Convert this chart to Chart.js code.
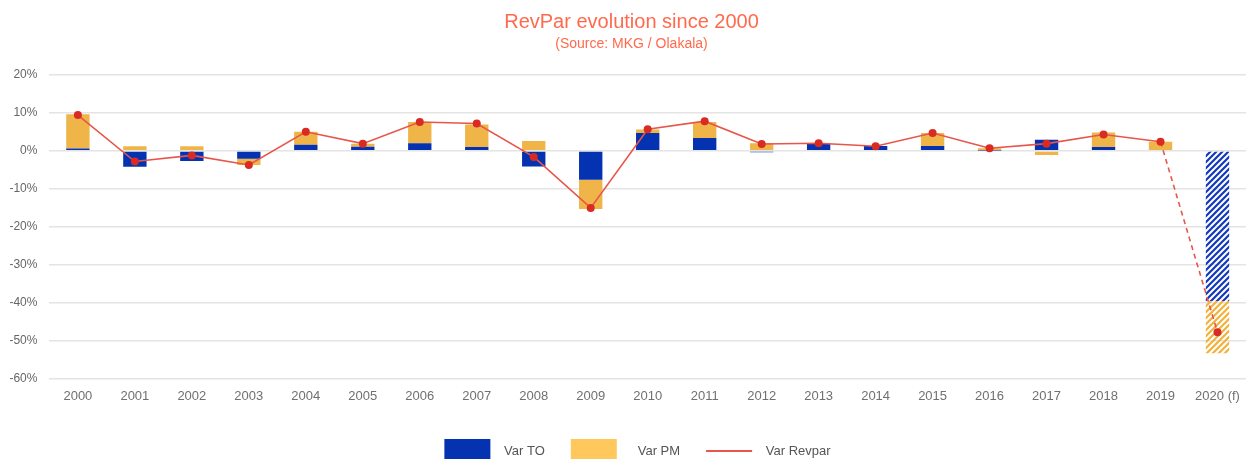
<!DOCTYPE html>
<html>
<head>
<meta charset="utf-8">
<script src="https://cdn.jsdelivr.net/npm/chart.js@4/dist/chart.umd.min.js"></script>
<style>
  html, body { margin: 0; padding: 0; background: #fff; overflow: hidden; }
  #wrap { width: 1250px; height: 473px; }
</style>
</head>
<body>
<div id="wrap"><canvas id="c" width="1250" height="473"></canvas></div>
<script>
const years = ['2000','2001','2002','2003','2004','2005','2006','2007','2008','2009','2010',
               '2011','2012','2013','2014','2015','2016','2017','2018','2019','2020 (f)'];
const varTO = [0.6, -4.2, -2.7, -2.1, 1.6, 1.1, 2.0, 1.0, -4.1, -7.6, 4.7,
               3.4, -0.4, 1.8, 1.3, 1.3, 0.1, 2.9, 1.0, 0.2, -39.5];
const varPM = [9.0, 1.2, 1.2, -1.6, 3.4, 0.8, 5.6, 5.9, 2.6, -7.7, 0.9,
               4.2, 2.0, 0.2, 0.0, 3.4, 0.6, -1.1, 3.8, 2.2, -13.7];
const varRevpar = [9.4, -2.8, -1.2, -3.7, 5.0, 1.9, 7.6, 7.2, -1.6, -15.0, 5.7,
                   7.8, 1.8, 2.0, 1.2, 4.7, 0.7, 1.9, 4.3, 2.4, -47.7];
const legendLabels = ['  Var TO', '    Var PM', '  Var Revpar'];
const forecastIndex = years.length - 1;

const BLUE = '#0532B0';
const YELLOW = '#EFB549';
const LEGEND_YELLOW = '#FFC85C';
const LINE_RED = '#E8554A';
const POINT_RED = '#D92B22';

function hatch(color) {
  const s = 6;
  const c = document.createElement('canvas');
  c.width = s; c.height = s;
  const g = c.getContext('2d');
  g.strokeStyle = color;
  g.lineWidth = 2.2;
  g.beginPath();
  g.moveTo(-1, s + 1); g.lineTo(s + 1, -1);
  g.moveTo(-1, 1); g.lineTo(1, -1);
  g.moveTo(s - 1, s + 1); g.lineTo(s + 1, s - 1);
  g.stroke();
  return g.createPattern(c, 'repeat');
}
const blueHatch = hatch('#1238C0');
const yellowHatch = hatch('#F2B23A');

const legendLinePlugin = {
  id: 'legendLine',
  afterLayout(chart) {
    // let the y tick labels use the left margin instead of being clipped
    const y = chart.scales.y;
    y.left = 0;
    y.width = y.right;
    // nudge the legend slightly right, as in the reference
    if (chart.legend) {
      chart.legend.left += 6;
      chart.legend.right += 6;
    }
  },
  afterDraw(chart) {
    const lg = chart.legend;
    if (!lg || !lg.legendItems) return;
    lg.legendItems.forEach((item, i) => {
      if (item.datasetIndex !== 2) return;
      const hb = lg.legendHitBoxes[i];
      const ctx = chart.ctx;
      ctx.save();
      ctx.strokeStyle = LINE_RED;
      ctx.lineWidth = 2;
      ctx.beginPath();
      const y = hb.top + hb.height / 2;
      ctx.moveTo(hb.left, y);
      ctx.lineTo(hb.left + 46, y);
      ctx.stroke();
      ctx.restore();
    });
  }
};

new Chart(document.getElementById('c'), {
  type: 'bar',
  data: {
    labels: years,
    datasets: [
      {
        label: 'Var TO',
        data: varTO,
        order: 1,
        backgroundColor: (ctx) => ctx.dataIndex === forecastIndex ? blueHatch : BLUE,
        legendColor: BLUE,
        barPercentage: 0.41,
        categoryPercentage: 1,
        borderWidth: 0
      },
      {
        label: 'Var PM',
        data: varPM,
        order: 2,
        backgroundColor: (ctx) => ctx.dataIndex === forecastIndex ? yellowHatch : YELLOW,
        legendColor: LEGEND_YELLOW,
        barPercentage: 0.41,
        categoryPercentage: 1,
        borderWidth: 0
      },
      {
        type: 'line',
        label: 'Var Revpar',
        data: varRevpar,
        order: 0,
        borderColor: LINE_RED,
        borderWidth: 1.6,
        pointRadius: 4,
        pointBackgroundColor: POINT_RED,
        pointBorderColor: POINT_RED,
        pointBorderWidth: 0,
        tension: 0,
        fill: false,
        segment: {
          borderDash: (ctx) => ctx.p1DataIndex === forecastIndex ? [5, 4] : undefined
        }
      }
    ]
  },
  options: {
    responsive: false,
    animation: false,
    devicePixelRatio: 1,
    layout: { padding: { left: 13, right: 0, top: 0, bottom: 0 } },
    scales: {
      x: {
        stacked: true,
        offset: true,
        grid: { display: false, drawTicks: false },
        border: { display: false },
        ticks: {
          color: '#707070',
          font: { family: 'Liberation Sans, Arial, sans-serif', size: 13 },
          padding: 10,
          maxRotation: 0,
          autoSkip: false
        },
        afterFit: (s) => { s.height = 34; }
      },
      y: {
        stacked: true,
        min: -60,
        max: 20,
        grid: { color: '#E4E4E4', lineWidth: 1.6, drawTicks: false },
        border: { display: false },
        ticks: {
          stepSize: 10,
          color: '#666666',
          font: { family: 'Liberation Sans, Arial, sans-serif', size: 12 },
          padding: 12,
          callback: (v) => v + '%'
        },
        afterFit: (s) => { s.width = 36.4; }
      }
    },
    plugins: {
      tooltip: { enabled: false },
      title: {
        display: true,
        text: 'RevPar evolution since 2000',
        color: '#FF6A4D',
        font: { family: 'Liberation Sans, Arial, sans-serif', size: 20, weight: 'normal' },
        padding: { top: 10, bottom: 0 }
      },
      subtitle: {
        display: true,
        text: '(Source: MKG / Olakala)',
        color: '#FF6A4D',
        font: { family: 'Liberation Sans, Arial, sans-serif', size: 14, weight: 'normal' },
        padding: { top: 2, bottom: 22 }
      },
      legend: {
        position: 'bottom',
        labels: {
          boxWidth: 46,
          boxHeight: 24,
          padding: 26,
          color: '#555555',
          font: { family: 'Liberation Sans, Arial, sans-serif', size: 13 },
          sort: (a, b) => a.datasetIndex - b.datasetIndex,
          generateLabels: (chart) => chart.data.datasets.map((ds, i) => {
            const isLine = ds.type === 'line';
            return {
              text: legendLabels[i],
              datasetIndex: i,
              fillStyle: isLine ? 'rgba(0,0,0,0)' : ds.legendColor,
              strokeStyle: 'rgba(0,0,0,0)',
              lineWidth: 0,
              hidden: false,
              fontColor: '#555555'
            };
          })
        }
      }
    }
  },
  plugins: [legendLinePlugin]
});
</script>
</body>
</html>
